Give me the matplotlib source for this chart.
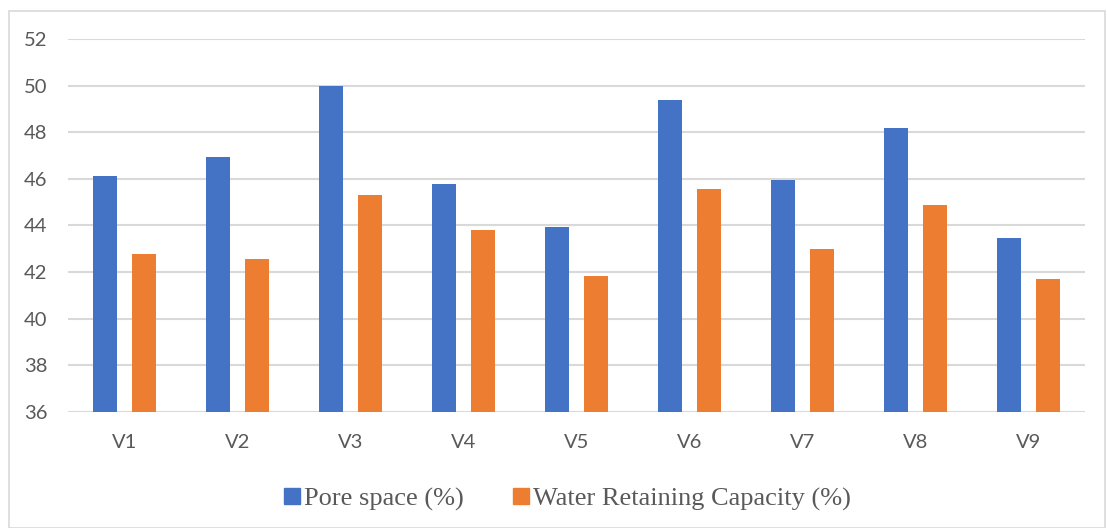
import numpy as np
import matplotlib
matplotlib.use('Agg')
import matplotlib.pyplot as plt
from matplotlib.patches import Rectangle
from matplotlib.lines import Line2D

categories = ['V1', 'V2', 'V3', 'V4', 'V5', 'V6', 'V7', 'V8', 'V9']
pore_space = [46.13, 46.93, 50.0, 45.77, 43.94, 49.39, 45.96, 48.19, 43.47]
water_cap = [42.78, 42.58, 45.32, 43.82, 41.85, 45.56, 42.97, 44.87, 41.71]
yticks = [36, 38, 40, 42, 44, 46, 48, 50, 52]

blue = '#4472C4'
orange = '#ED7D31'

fig = plt.figure(figsize=(11.07, 5.28), dpi=100)
ax = fig.add_axes([0.0614, 0.2197, 0.9186, 0.7065])

x = np.arange(len(categories))
w = 0.21
ax.bar(x - 0.174, pore_space, w, color=blue, zorder=3, label='Pore space (%)')
ax.bar(x + 0.174, water_cap, w, color=orange, zorder=3, label='Water Retaining Capacity (%)')

ax.set_ylim(36, 52)
ax.set_xlim(-0.5, len(categories) - 0.5)
ax.set_yticks(yticks)
ax.set_xticks(x)
ax.set_xticklabels(categories)
ax.grid(axis='y', color='#D9D9D9', linewidth=1.5, zorder=0)
for s in ax.spines.values():
    s.set_visible(False)
ax.tick_params(length=0, labelsize=14.5, labelcolor='#595959')
ax.tick_params(axis='y', pad=15)
ax.tick_params(axis='x', pad=16)
for lab in ax.get_xticklabels() + ax.get_yticklabels():
    lab.set_family('Lato')

# outer chart border
fig.patches.append(Rectangle((0.008, 0.0), 0.99, 0.98, transform=fig.transFigure,
                             fill=False, edgecolor='#D9D9D9', linewidth=1.2))

handles = [Line2D([], [], marker='s', linestyle='', markersize=11, color=blue),
           Line2D([], [], marker='s', linestyle='', markersize=11, color=orange)]
leg = fig.legend(handles, ['Pore space (%)', 'Water Retaining Capacity (%)'],
                 loc='center', bbox_to_anchor=(0.512, 0.055), ncol=2, frameon=False,
                 prop={'family': 'Liberation Serif', 'size': 19},
                 handletextpad=0.1, columnspacing=1.8, handlelength=0.7)
for t in leg.get_texts():
    t.set_color('#595959')

fig.savefig('out.png', dpi=100)
